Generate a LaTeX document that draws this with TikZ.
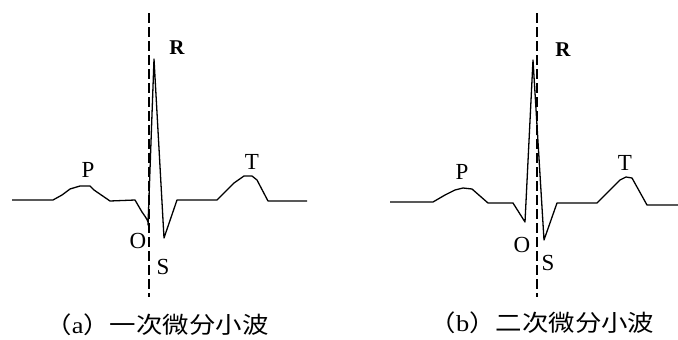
\documentclass[tikz,border=0pt]{standalone}
\usepackage{fontspec}
\usepackage{graphicx}
\setmainfont{Liberation Serif}
\newfontfamily\cjk{Noto Sans CJK SC}
\begin{document}
\begin{tikzpicture}[x=1pt,y=-1pt,
  ecg/.style={line width=1.3pt,line join=round},
  axisline/.style={line width=2pt,dash pattern=on 10pt off 4pt},
  wlabel/.style={font=\fontsize{23}{23}\selectfont,inner sep=0pt},
  rlabel/.style={font=\fontsize{21}{21}\selectfont\bfseries,inner sep=0pt},
  caption/.style={inner sep=0pt}]
\useasboundingbox (0,0) rectangle (678,340);
% panel a
\coordinate (atop) at (149,13);
\coordinate (abot) at (149,297);
\draw[axisline] (atop) -- (abot);
\draw[ecg] (12,200) -- (53,200) -- (62,195) -- (70,189) -- (80,186) -- (90,186) -- (94,190) -- (110,201) -- (135,200) -- (142,212)
  .. controls (147,219) and (149,222) .. (148,225) -- (154,59) -- (164,238) -- (177,200) -- (217,200) -- (225,192) -- (234,183) -- (244,176) -- (252,176) -- (257,180) -- (268,201) -- (307,201);
\node[rlabel] (ra) at (177,48) {R};
\node[wlabel] (pa) at (88,170) {P};
\node[wlabel] (ta) at (252,162) {T};
\node[wlabel,fill=white,inner sep=0.5pt] (oa) at (138,241) {O};
\node[wlabel] (sa) at (163,267) {S};
\node[caption] (capa) at (157,325) {\scalebox{1.15}[1]{\fontsize{23}{23}\selectfont\cjk （\rmfamily a\cjk ）一次微分小波}};
% panel b
\coordinate (btop) at (537,13);
\coordinate (bbot) at (537,297);
\draw[axisline] (btop) -- (bbot);
\draw[ecg] (390,202) -- (433,202) -- (445,195) -- (455,190) -- (463,188) -- (472,189) -- (488,203) -- (513,203) -- (525,222) -- (533,60) -- (544,240) -- (557,203) -- (597,203) -- (610,190) -- (620,180) -- (626,177) -- (632,178) -- (647,205) -- (678,205);
\node[rlabel] (rb) at (563,50) {R};
\node[wlabel] (pb) at (462,172) {P};
\node[wlabel] (tb) at (625,163) {T};
\node[wlabel] (ob) at (522,245) {O};
\node[wlabel] (sb) at (548,263) {S};
\node[caption] (capb) at (542,323) {\scalebox{1.15}[1]{\fontsize{23}{23}\selectfont\cjk （\rmfamily b\cjk ）二次微分小波}};
\end{tikzpicture}
\end{document}
